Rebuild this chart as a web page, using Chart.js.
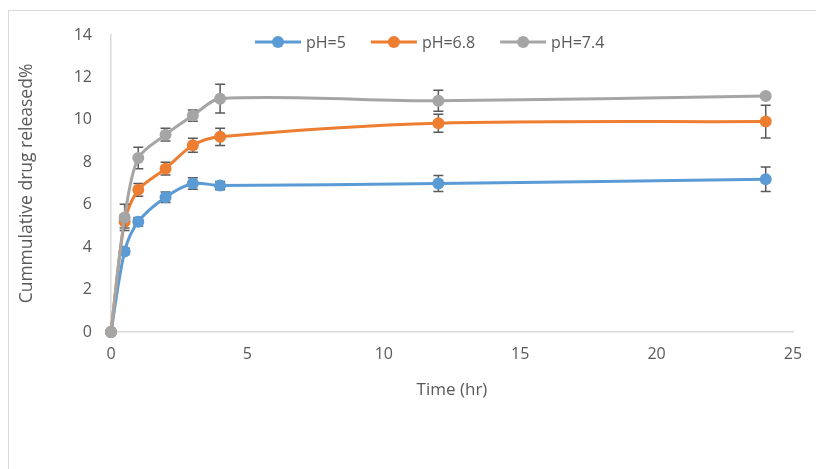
<!DOCTYPE html>
<html>
<head>
<meta charset="utf-8">
<script src="https://cdn.jsdelivr.net/npm/chart.js@4"></script>
<style>
  html, body { margin: 0; padding: 0; background: #fff; }
  #wrap { position: relative; width: 816px; height: 469px; }
  #frame { position: absolute; left: 8px; top: 10px; right: 0; bottom: 0; border-top: 1px solid #d9d9d9; border-left: 1px solid #d9d9d9; }
  canvas { position: absolute; left: 0; top: 0; }
</style>
</head>
<body>
<div id="wrap">
  <div id="frame"></div>
  <canvas id="chart" width="816" height="469"></canvas>
</div>
<script>
const times = [0, 0.5, 1, 2, 3, 4, 12, 24];

const labels = ["pH=5", "pH=6.8", "pH=7.4"];
const colors = ["#5B9BD5", "#ED7D31", "#A5A5A5"];

const ph5 = [0, 3.8, 5.2, 6.35, 7.0, 6.9, 7.0, 7.2];
const ph5Err = [0, 0.15, 0.2, 0.25, 0.27, 0.2, 0.38, 0.58];

const ph68 = [0, 5.2, 6.7, 7.7, 8.8, 9.2, 9.84, 9.92];
const ph68Err = [0, 0.3, 0.3, 0.3, 0.33, 0.41, 0.43, 0.77];

const ph74 = [0, 5.4, 8.2, 9.3, 10.2, 11.0, 10.9, 11.12];
const ph74Err = [0, 0.62, 0.51, 0.3, 0.27, 0.68, 0.5, 0.1];

const xTicks = [0, 5, 10, 15, 20, 25];
const yTicks = [0, 2, 4, 6, 8, 10, 12, 14];

const series = [ph5, ph68, ph74];
const errors = [ph5Err, ph68Err, ph74Err];

const font = "'Open Sans', 'Noto Sans', sans-serif";
const textColor = "#595959";

// error bars under each series' own line and markers
const errorBars = {
    id: "errorBars",
    beforeDatasetDraw(chart, args) {
        const i = args.index;
        const err = chart.data.datasets[i].errors;
        if (!err) return;
        const xs = chart.scales.x, ys = chart.scales.y, ctx = chart.ctx;
        ctx.save();
        ctx.strokeStyle = "#595959";
        ctx.lineWidth = 1.5;
        chart.data.datasets[i].data.forEach((p, j) => {
            if (!err[j]) return;
            const x = xs.getPixelForValue(p.x);
            const top = ys.getPixelForValue(p.y + err[j]);
            const bot = ys.getPixelForValue(p.y - err[j]);
            ctx.beginPath();
            ctx.moveTo(x, top); ctx.lineTo(x, bot);
            ctx.moveTo(x - 5, top); ctx.lineTo(x + 5, top);
            ctx.moveTo(x - 5, bot); ctx.lineTo(x + 5, bot);
            ctx.stroke();
        });
        ctx.restore();
    }
};

// legend sitting inside the plot area, line + dot like the original
const insideLegend = {
    id: "insideLegend",
    afterDraw(chart) {
        const ctx = chart.ctx;
        ctx.save();
        ctx.font = "16px " + font;
        ctx.textBaseline = "middle";
        const lineW = 46, gap = 5, itemGap = 25;
        const widths = labels.map(l => lineW + gap + ctx.measureText(l).width);
        let x = 255;
        const y = 42;
        labels.forEach((l, i) => {
            ctx.strokeStyle = colors[i];
            ctx.lineWidth = 3;
            ctx.beginPath();
            ctx.moveTo(x, y); ctx.lineTo(x + lineW, y);
            ctx.stroke();
            ctx.fillStyle = colors[i];
            ctx.beginPath();
            ctx.arc(x + lineW / 2, y, 6, 0, Math.PI * 2);
            ctx.fill();
            ctx.fillStyle = textColor;
            ctx.fillText(l, x + lineW + gap, y + 1);
            x += widths[i] + itemGap;
        });
        ctx.restore();
    }
};

new Chart(document.getElementById("chart"), {
    type: "line",
    data: {
        datasets: series.map((s, i) => ({
            label: labels[i],
            data: times.map((t, j) => ({ x: t, y: s[j] })),
            errors: errors[i],
            borderColor: colors[i],
            backgroundColor: colors[i],
            borderWidth: 3,
            pointRadius: 6,
            pointHoverRadius: 6,
            pointBorderWidth: 0,
            tension: 0.3,
            clip: false,
            order: 3 - i,
        }))
    },
    options: {
        responsive: false,
        animation: false,
        layout: { padding: { left: 0, top: 35, right: 23, bottom: 62 } },
        plugins: {
            legend: { display: false },
            tooltip: { enabled: false },
        },
        scales: {
            x: {
                type: "linear",
                min: 0,
                max: 25,
                afterBuildTicks: s => { s.ticks = xTicks.map(v => ({ value: v })); },
                afterFit: s => { s.height = 75; },
                grid: { display: false, drawTicks: false },
                border: { display: true, color: "#d9d9d9", width: 1.5 },
                ticks: { color: textColor, font: { family: font, size: 16 }, padding: 13 },
                title: {
                    display: true,
                    text: "Time (hr)",
                    color: textColor,
                    font: { family: font, size: 17 },
                    padding: { top: 7, bottom: 7 },
                },
            },
            y: {
                min: 0,
                max: 14,
                afterBuildTicks: s => { s.ticks = yTicks.map(v => ({ value: v })); },
                afterFit: s => { s.width = 111; },
                grid: { display: false, drawTicks: false },
                border: { display: true, color: "#d9d9d9", width: 1.5 },
                ticks: { color: textColor, font: { family: font, size: 16 }, padding: 19 },
                title: {
                    display: true,
                    text: "Cummulative drug released%",
                    color: textColor,
                    font: { family: font, size: 17.5 },
                    padding: { top: 17, bottom: 17 },
                },
            },
        },
    },
    plugins: [errorBars, insideLegend],
});
</script>
</body>
</html>
